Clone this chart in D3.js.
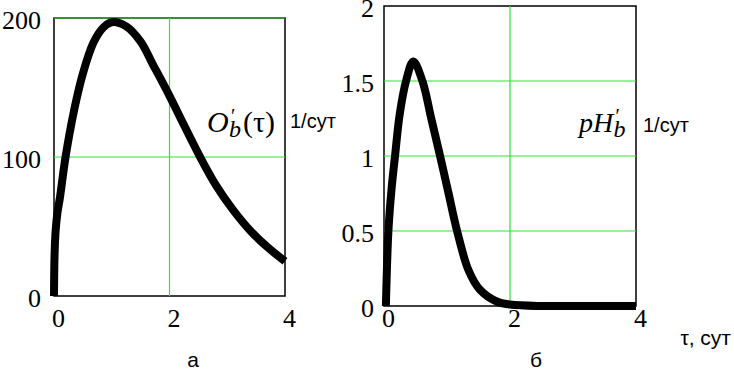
<!DOCTYPE html>
<html>
<head>
<meta charset="utf-8">
<script src="https://cdn.jsdelivr.net/npm/d3@7"></script>
<style>
  html, body { margin: 0; padding: 0; background: #fff; }
  svg { display: block; }
</style>
</head>
<body>
<div id="chart"></div>
<script>
// ----------------------
// Two panels: O'b(τ) and pH'b vs τ
// ----------------------

// panel а
const tauA = [0, 0.01, 0.03, 0.06, 0.1, 0.2, 0.35, 0.5, 0.68, 0.85, 1.0, 1.25, 1.5, 1.72, 2.0, 2.25, 2.53, 2.8, 3.1, 3.4, 3.7, 4.0];
const oA   = [0, 30, 48, 60, 70, 100, 134, 160, 182, 193, 197, 194, 183, 166, 144, 123, 100, 80, 62, 47, 35, 25];
const yTicksA = [0, 100, 200];

// panel б
const tauB = [0.03, 0.07, 0.12, 0.175, 0.25, 0.35, 0.465, 0.61, 0.75, 0.89, 1.02, 1.16, 1.34, 1.52, 1.79, 2.0, 2.5, 3.0, 3.5, 4.0];
const pB   = [0, 0.5, 0.78, 1.0, 1.28, 1.5, 1.63, 1.5, 1.25, 1.0, 0.76, 0.5, 0.24, 0.11, 0.03, 0.01, 0, 0, 0, 0];
const yTicksB = [0, 0.5, 1, 1.5, 2];

const xTicks = [0, 2, 4];

const width = 734;
const height = 372;
const green = "#2ee62e";
const serif = "'Liberation Serif', serif";
const sans = "'Liberation Sans', sans-serif";

const svg = d3.select("#chart")
    .append("svg")
    .attr("width", width)
    .attr("height", height);

function drawPanel(opt) {
    const x = d3.scaleLinear().domain([0, 4]).range(opt.xr);
    const y = d3.scaleLinear().domain(opt.yd).range(opt.yr);
    const g = svg.append("g");

    // frame
    g.append("rect")
        .attr("x", x(0)).attr("y", y(opt.yd[1]))
        .attr("width", x(4) - x(0)).attr("height", y(opt.yd[0]) - y(opt.yd[1]))
        .attr("fill", "none").attr("stroke", "#000").attr("stroke-width", 1.5);

    // green grid
    g.selectAll(".gy")
        .data(opt.gridY)
        .enter().append("line")
        .attr("x1", x(0)).attr("x2", x(4))
        .attr("y1", d => y(d)).attr("y2", d => y(d))
        .attr("stroke", green).attr("stroke-width", 1.2);
    g.append("line")
        .attr("x1", x(2)).attr("x2", x(2))
        .attr("y1", y(opt.yd[0])).attr("y2", y(opt.yd[1]))
        .attr("stroke", green).attr("stroke-width", 1.2);

    // axes
    const ya = g.append("g")
        .attr("transform", `translate(${x(0)},0)`)
        .call(d3.axisLeft(y).tickValues(opt.yTicks).tickFormat(d => String(d)).tickSize(0).tickPadding(opt.pad));
    ya.select(".domain").remove();
    ya.selectAll("text")
        .attr("dy", "0.42em")
        .style("font-family", serif).style("font-size", "26px").attr("fill", "#000");

    const xa = g.append("g")
        .attr("transform", `translate(0,${y(opt.yd[0])})`)
        .call(d3.axisBottom(x).tickValues(xTicks).tickFormat(d => String(d)).tickSize(0));
    xa.select(".domain").remove();
    xa.selectAll("text")
        .attr("dy", null)
        .attr("x", 4)
        .attr("y", 327 - y(opt.yd[0]))
        .style("font-family", serif).style("font-size", "26px").attr("fill", "#000");

    // curve
    const pts = opt.tau.map((t, i) => [t, opt.val[i]]);
    g.append("path")
        .datum(pts)
        .attr("d", d3.line().x(d => x(d[0])).y(d => y(d[1])).curve(d3.curveCatmullRom.alpha(0.5)))
        .attr("fill", "none")
        .attr("stroke", "#000")
        .attr("stroke-width", 8)
        .attr("stroke-linejoin", "round");

    return { x, y };
}

drawPanel({ xr: [54, 285], yd: [0, 200], yr: [296, 18], gridY: [100, 200], yTicks: yTicksA, pad: 13, tau: tauA, val: oA });
drawPanel({ xr: [384, 636], yd: [0, 2], yr: [306, 6], gridY: [0.5, 1, 1.5], yTicks: yTicksB, pad: 10, tau: tauB, val: pB });

// function labels
const la = svg.append("text")
    .attr("x", 207).attr("y", 132)
    .style("font-family", serif).style("font-size", "30px").attr("fill", "#000");
la.append("tspan").attr("font-style", "italic").text("O");
la.append("tspan").attr("font-style", "italic").style("font-size", "20px").attr("dx", 1).attr("dy", -9).text("′");
la.append("tspan").attr("font-style", "italic").style("font-size", "24px").attr("dx", -5).attr("dy", 14).text("b");
la.append("tspan").attr("dx", 2).attr("dy", -5).text("(τ)");

const lb = svg.append("text")
    .attr("x", 579).attr("y", 132)
    .style("font-family", serif).style("font-size", "28px").attr("fill", "#000");
lb.append("tspan").attr("font-style", "italic").text("pH");
lb.append("tspan").attr("font-style", "italic").style("font-size", "20px").attr("dx", 1).attr("dy", -9).text("′");
lb.append("tspan").attr("font-style", "italic").style("font-size", "24px").attr("dx", -5).attr("dy", 14).text("b");

svg.append("text").attr("x", 290).attr("y", 128)
    .style("font-family", sans).style("font-size", "20px").text("1/сут");
svg.append("text").attr("x", 643).attr("y", 132)
    .style("font-family", sans).style("font-size", "20px").text("1/сут");

// axis name and panel letters
svg.append("text").attr("x", 731).attr("y", 345).attr("text-anchor", "end")
    .style("font-family", sans).style("font-size", "21px").text("τ, сут");
svg.append("text").attr("x", 193).attr("y", 367).attr("text-anchor", "middle")
    .style("font-family", sans).style("font-size", "21px").text("а");
svg.append("text").attr("x", 536).attr("y", 367).attr("text-anchor", "middle")
    .style("font-family", sans).style("font-size", "21px").text("б");
</script>
</body>
</html>
